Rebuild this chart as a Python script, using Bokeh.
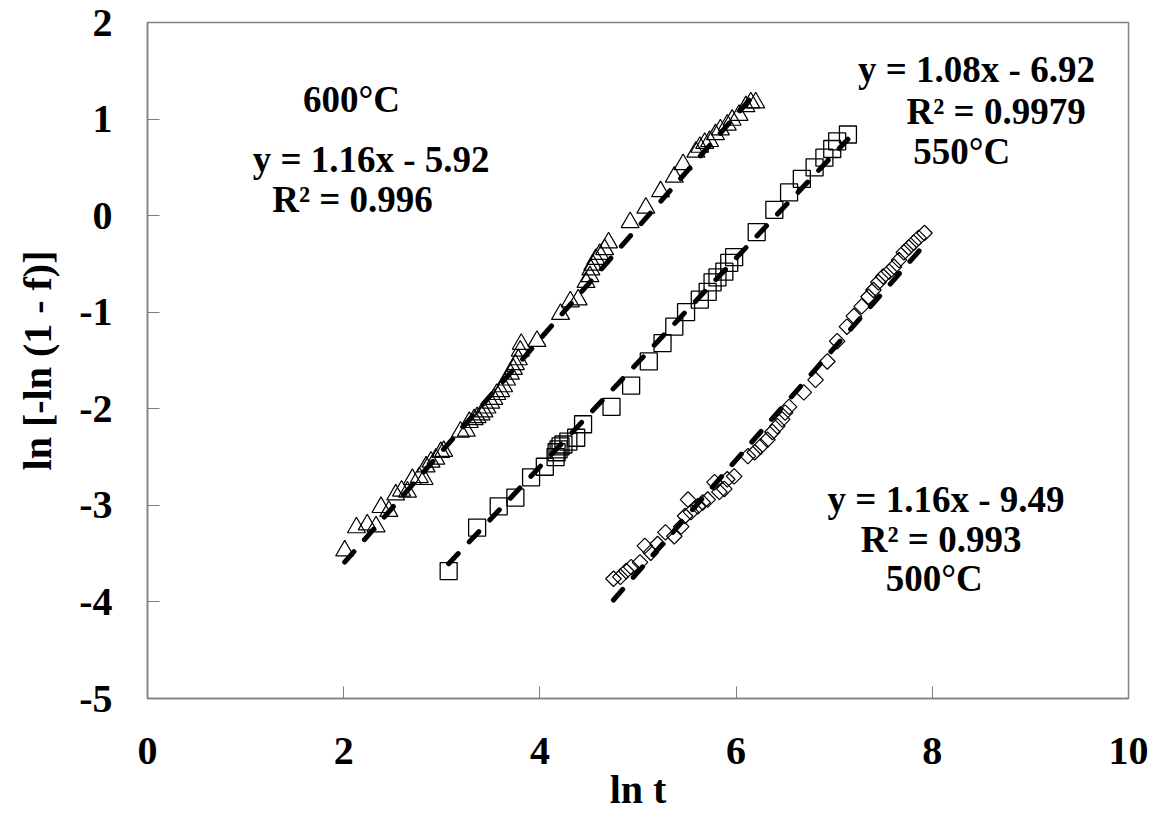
import numpy as np
from bokeh.plotting import figure
from bokeh.models import Label, Range1d, FixedTicker
from bokeh.embed import file_html
from bokeh.resources import INLINE

# ---- data ----
x600 = [2.01, 2.13, 2.24, 2.33, 2.38, 2.46, 2.53, 2.59, 2.65, 2.70, 2.77, 2.82, 2.84, 2.89, 2.94,
        2.99, 3.02, 3.19, 3.25, 3.28, 3.33, 3.36, 3.40, 3.43, 3.46, 3.50, 3.53, 3.56, 3.60, 3.63,
        3.66, 3.70, 3.73, 3.75, 3.78, 3.80, 3.81, 3.97, 4.21, 4.31, 4.39, 4.47, 4.51, 4.52, 4.54,
        4.57, 4.61, 4.66, 4.70, 4.92, 5.08, 5.23, 5.37, 5.46, 5.59, 5.63, 5.68, 5.73, 5.79, 5.84,
        5.91, 5.96, 6.03, 6.10, 6.15, 6.20]
y600 = [-3.47, -3.23, -3.20, -3.22, -3.02, -3.06, -2.89, -2.85, -2.86, -2.73, -2.71, -2.73, -2.60, -2.55, -2.52,
        -2.45, -2.44, -2.24, -2.23, -2.14, -2.11, -2.09, -2.06, -2.03, -1.99, -1.94, -1.90, -1.85, -1.82, -1.77,
        -1.70, -1.64, -1.59, -1.54, -1.49, -1.40, -1.33, -1.30, -1.02, -0.89, -0.87, -0.69, -0.63, -0.56, -0.51,
        -0.45, -0.40, -0.35, -0.28, -0.07, 0.08, 0.25, 0.40, 0.53, 0.66, 0.71, 0.75, 0.77, 0.84, 0.89,
        0.94, 0.99, 1.04, 1.13, 1.17, 1.17]

x550 = [3.07, 3.36, 3.58, 3.75, 3.91, 4.05, 4.16, 4.17, 4.19, 4.21, 4.24, 4.29, 4.37, 4.44, 4.73,
        4.93, 5.11, 5.25, 5.37, 5.49, 5.63, 5.71, 5.76, 5.81, 5.88, 5.93, 5.98, 6.21, 6.39, 6.54,
        6.67, 6.80, 6.90, 6.98, 7.03, 7.14]
y550 = [-3.68, -3.23, -3.01, -2.92, -2.71, -2.60, -2.50, -2.45, -2.42, -2.39, -2.37, -2.34, -2.30, -2.16, -1.98,
        -1.76, -1.51, -1.32, -1.15, -1.00, -0.87, -0.79, -0.69, -0.64, -0.58, -0.49, -0.43, -0.17, 0.06, 0.24,
        0.38, 0.50, 0.60, 0.69, 0.77, 0.84]

x500 = [4.75, 4.82, 4.88, 4.93, 5.02, 5.07, 5.13, 5.20, 5.28, 5.37, 5.44, 5.48, 5.51, 5.54, 5.61,
        5.66, 5.71, 5.78, 5.83, 5.88, 5.91, 5.98, 6.12, 6.19, 6.25, 6.32, 6.37, 6.42, 6.47, 6.50,
        6.54, 6.69, 6.81, 6.93, 7.03, 7.13, 7.20, 7.28, 7.35, 7.40, 7.45, 7.50, 7.56, 7.61, 7.66,
        7.71, 7.76, 7.81, 7.86, 7.92]
y500 = [-3.76, -3.74, -3.68, -3.64, -3.59, -3.42, -3.49, -3.40, -3.28, -3.32, -3.22, -3.11, -2.94, -3.07, -3.01,
        -2.97, -2.94, -2.76, -2.86, -2.83, -2.73, -2.70, -2.49, -2.45, -2.39, -2.32, -2.24, -2.18, -2.11, -2.04,
        -1.98, -1.83, -1.70, -1.51, -1.30, -1.15, -1.04, -0.94, -0.84, -0.77, -0.69, -0.63, -0.58, -0.53, -0.46,
        -0.38, -0.33, -0.28, -0.23, -0.18]

# trend lines (slope, intercept) from the labels
fit600 = (1.16, -5.92)
fit550 = (1.08, -6.92)
fit500 = (1.16, -9.49)

x_ticks = [0, 2, 4, 6, 8, 10]
y_ticks = [-5, -4, -3, -2, -1, 0, 1, 2]

FONT = "Liberation Serif"
FS_TICK = "40px"
FS_AXIS = "40px"
FS_NOTE = "37px"

p = figure(width=1151, height=814, output_backend="svg", toolbar_location=None,
           x_range=Range1d(0, 10), y_range=Range1d(-5, 2),
           min_border_left=147, min_border_right=23, min_border_top=22, min_border_bottom=115)
p.grid.visible = False
p.background_fill_color = "white"
p.outline_line_color = "#808080"
p.outline_line_width = 1.5

for ax in (p.xaxis[0], p.yaxis[0]):
    ax.axis_line_color = "#808080"
    ax.axis_line_width = 1.5
    ax.major_tick_in = 12
    ax.major_tick_out = 0
    ax.major_tick_line_color = "#808080"
    ax.minor_tick_line_color = None
    ax.major_label_text_font = FONT
    ax.major_label_text_font_style = "bold"
    ax.major_label_text_font_size = FS_TICK
    ax.major_label_text_color = "black"
    ax.axis_label_text_font = FONT
    ax.axis_label_text_font_style = "bold"
    ax.axis_label_text_font_size = FS_AXIS
    ax.axis_label_text_color = "black"

p.xaxis.ticker = FixedTicker(ticks=x_ticks)
p.yaxis.ticker = FixedTicker(ticks=y_ticks)
p.xaxis.major_label_overrides = {t: str(t) for t in x_ticks}
p.yaxis.major_label_overrides = {t: str(t) for t in y_ticks}
p.xaxis.axis_label = "ln t"
p.yaxis.axis_label = "ln [-ln (1 - f)]"
p.xaxis.major_label_standoff = 39
p.yaxis.major_label_standoff = 35
p.xaxis.axis_label_standoff = 0
p.yaxis.axis_label_standoff = 16

def trend(xs, fit):
    xe = np.array([min(xs), max(xs)])
    return xe, fit[0] * xe + fit[1]

for xs, fit in ((x600, fit600), (x550, fit550), (x500, fit500)):
    xe, ye = trend(xs, fit)
    p.line(xe, ye, line_color="black", line_width=5, line_dash="14 16", line_cap="round")

p.scatter(x600, y600, marker="triangle", size=18, fill_color=None, line_color="black", line_width=1.2)
p.scatter(x550, y550, marker="square", size=17, fill_color=None, line_color="black", line_width=1.3)
p.scatter(x500, y500, marker="square", size=11, angle=np.pi / 4, fill_color=None, line_color="black", line_width=1.2)

labels = [
    ("600°C", 2.08, 1.20), ("y = 1.16x - 5.92", 2.28, 0.58), ("R² = 0.996", 2.09, 0.17),
    ("y = 1.08x - 6.92", 8.45, 1.51), ("R² = 0.9979", 8.65, 1.08), ("550°C", 8.30, 0.66),
    ("y = 1.16x - 9.49", 8.14, -2.94), ("R² = 0.993", 8.09, -3.35), ("500°C", 8.02, -3.76),
]
for t, lx, ly in labels:
    p.add_layout(Label(x=lx, y=ly, text=t, text_font=FONT, text_font_style="bold",
                       text_font_size=FS_NOTE, text_align="center", text_baseline="middle",
                       text_color="black"))

open("out.html", "w").write(file_html(p, INLINE))
